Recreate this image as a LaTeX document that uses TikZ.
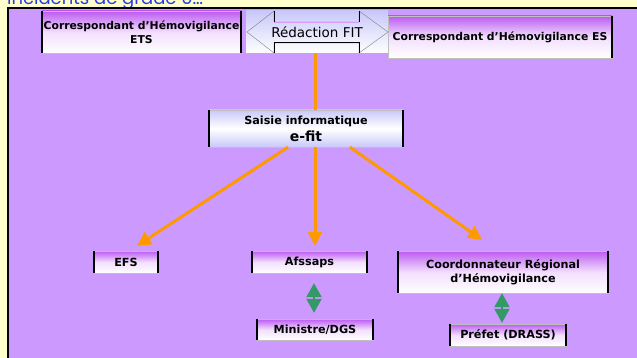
\documentclass[tikz,border=0pt]{standalone}
\usepackage{fontspec}
\setmainfont{DejaVu Sans}
\newfontfamily\titrefont{Poppins}
\usetikzlibrary{arrows.meta}

\definecolor{fond}{RGB}{255,255,204}
\definecolor{mauve}{RGB}{204,153,255}
\definecolor{violet}{RGB}{188,90,242}
\definecolor{lavande}{RGB}{200,200,250}
\definecolor{orangefit}{RGB}{255,153,0}
\definecolor{vert}{RGB}{51,153,102}
\definecolor{bleu}{RGB}{40,60,230}

\begin{document}
\begin{tikzpicture}[x=1pt,y=-1pt,
    boite/.style={rectangle, draw=gray!50, inner sep=0pt, align=center,
        top color=violet, bottom color=white, middle color=violet!20!white,
        font=\bfseries\fontsize{11.2}{14}\selectfont},
    cote/.style={black, line width=1.6pt},
    trait/.style={draw=orangefit, line width=3pt},
    fleche/.style={trait, -{Triangle[length=14pt,width=14pt]}},
    double/.style={draw=vert, line width=2pt,
        {Triangle[length=14pt,width=15pt]}-{Triangle[length=14pt,width=15pt]}}]

    %\draw [help lines] (0,0) grid[step=20] (637,358);
    \useasboundingbox (0,0) rectangle (637,358);
    \fill[fond] (0,0) rectangle (637,358);
    \node (titre) [anchor=base west, text=bleu, inner sep=0pt,
        font=\titrefont\fontsize{18}{20}\selectfont] at (7,4.5) {incidents de grade 0…};
    \draw[line width=2pt, fill=mauve] (8,8) rectangle (660,380);

    % haut
    \path   (141.5,32) node (ets) [boite, minimum width=199pt, minimum height=42pt,
                font=\bfseries\fontsize{10.8}{14}\selectfont] {Correspondant d’Hémovigilance\\ETS}
            (317,32) node (redac) [rectangle, top color=lavande, bottom color=white,
                minimum width=142pt, minimum height=42pt, inner sep=0pt] {}
            (500,37) node (es) [boite, minimum width=224pt, minimum height=42pt,
                font=\bfseries\fontsize{10.8}{14}\selectfont] {Correspondant d’Hémovigilance ES};

    \draw[gray] (247,32) -- (274,11) -- (274,22) -- (359,22) -- (359,11) -- (388,32)
        -- (359,53) -- (359,43) -- (274,43) -- (274,53) -- cycle;
    \draw[violet!60] (274,22) -- (359,22);
    \draw[black, line width=1pt] (274,11) -- (274,22) (359,11) -- (359,22)
        (274,53) -- (274,43) -- (359,43) -- (359,53);
    \node (fit) [font=\fontsize{13.5}{14}\selectfont, inner sep=0pt] at (redac) {Rédaction FIT};

    % milieu
    \path   (306,128.5) node (saisie) [boite, minimum width=194pt, minimum height=37pt,
                top color=lavande, bottom color=lavande, middle color=white]
                {Saisie informatique\\[3pt]{\fontsize{14}{14}\selectfont e-fit}};

    % bas
    \path   (126,262) node (efs) [boite, minimum width=64pt, minimum height=22pt] {EFS}
            (309.5,262) node (afssaps) [boite, minimum width=115pt, minimum height=22pt] {Afssaps}
            (503,272) node (coord) [boite, minimum width=210pt, minimum height=42pt]
                {Coordonnateur Régional\\d’Hémovigilance}
            (315,329.5) node (ministre) [boite, minimum width=116pt, minimum height=21pt] {Ministre/DGS}
            (508,335) node (prefet) [boite, minimum width=116pt, minimum height=22pt] {Préfet (DRASS)};

    \foreach \n in {ets,saisie,efs,afssaps,coord,ministre,prefet}
        \draw[cote] (\n.north west) -- (\n.south west) (\n.north east) -- (\n.south east);
    \draw[cote] (es.north east) -- (es.south east);

    \draw[trait] ([xshift=-2pt]redac.south) -- ([xshift=9pt]saisie.north);
    \draw[fleche] ([xshift=-18pt]saisie.south) -- ([xshift=11pt,yshift=5pt]efs.north);
    \draw[fleche] ([xshift=9pt]saisie.south) -- ([xshift=5.5pt,yshift=5pt]afssaps.north);
    \draw[fleche] ([xshift=44pt]saisie.south) -- ([xshift=-21pt,yshift=11pt]coord.north);

    \draw[double] ([xshift=4.5pt,yshift=-10pt]afssaps.south) -- ([xshift=-1pt,yshift=6pt]ministre.north);
    \draw[double] ([xshift=-1pt]coord.south) -- ([xshift=-6pt,yshift=1pt]prefet.north);

\end{tikzpicture}
\end{document}
